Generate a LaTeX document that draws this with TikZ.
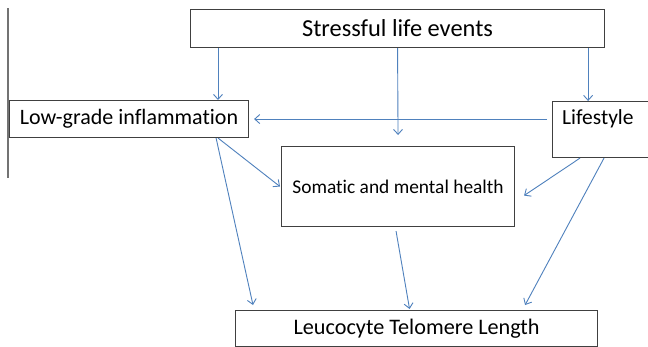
\documentclass[tikz,border=0pt]{standalone}
\usepackage{fontspec}
\setmainfont[Ligatures=NoCommon]{Carlito}
\usetikzlibrary{arrows.meta}
\definecolor{arrblue}{RGB}{79,129,189}
\definecolor{boxgray}{RGB}{64,64,64}
\tikzset{
  box/.style={draw=boxgray, line width=1.1pt, fill=white, inner sep=0pt, anchor=north west},
  arr/.style={draw=arrblue, line width=0.9pt, -{Straight Barb[length=5pt,width=9pt]}},
}
\begin{document}
\begin{tikzpicture}[x=1pt,y=1pt]
\useasboundingbox (0,0) rectangle (648,-346);
\fill[white] (0,0) rectangle (648,-346);
\clip (0,0) rectangle (648,-346);
% left vertical line
\draw[color=gray!90!black, line width=1.6pt] (8,-8) -- (8,-178);
% boxes
\node[box, minimum width=414pt, minimum height=38pt, font=\fontsize{24.4}{28}\selectfont] (stress) at (190,-9) {Stressful life events};
\node[box, minimum width=239pt, minimum height=37pt, font=\fontsize{22}{26}\selectfont] (low) at (9,-100) {Low-grade inflammation};
\node[box, minimum width=110pt, minimum height=56pt] (life) at (552,-101) {};
\node[anchor=west, inner sep=0pt, font=\fontsize{21.5}{25}\selectfont] (lifetext) at (562,-118.5) {Lifestyle};
\node[box, minimum width=233pt, minimum height=80pt, font=\fontsize{19.4}{23}\selectfont] (soma) at (281,-146) {Somatic and mental health};
\node[box, minimum width=362pt, minimum height=36pt, font=\fontsize{22.2}{26}\selectfont] (leu) at (235,-310) {Leucocyte Telomere Length};
% connectors
\draw[arr] ([xshift=28pt]stress.south west) -- ([xshift=28pt]stress.south west |- low.north);
\draw[arr] (stress.south) -- ([yshift=11pt]soma.north);
\draw[arr] ([xshift=-17pt]stress.south east) -- ([xshift=-17pt]stress.south east |- life.north);
\draw[arr] ([xshift=-5pt]low.east -| life.west) -- ([xshift=5pt]low.east);
\draw[arr] ([xshift=-31pt]low.south east) -- ([xshift=-1pt]soma.west);
\draw[arr] ([xshift=-33pt]low.south east) -- ([shift={(18pt,5pt)}]leu.north west);
\draw[arr] ([shift={(-2pt,-4pt)}]soma.south) -- ([shift={(-7pt,1pt)}]leu.north);
\draw[arr] ([xshift=28pt]life.south west) -- ([shift={(9pt,-9pt)}]soma.east);
\draw[arr] ([xshift=52pt]life.south west) -- ([shift={(-73pt,5pt)}]leu.north east);
\end{tikzpicture}
\end{document}
